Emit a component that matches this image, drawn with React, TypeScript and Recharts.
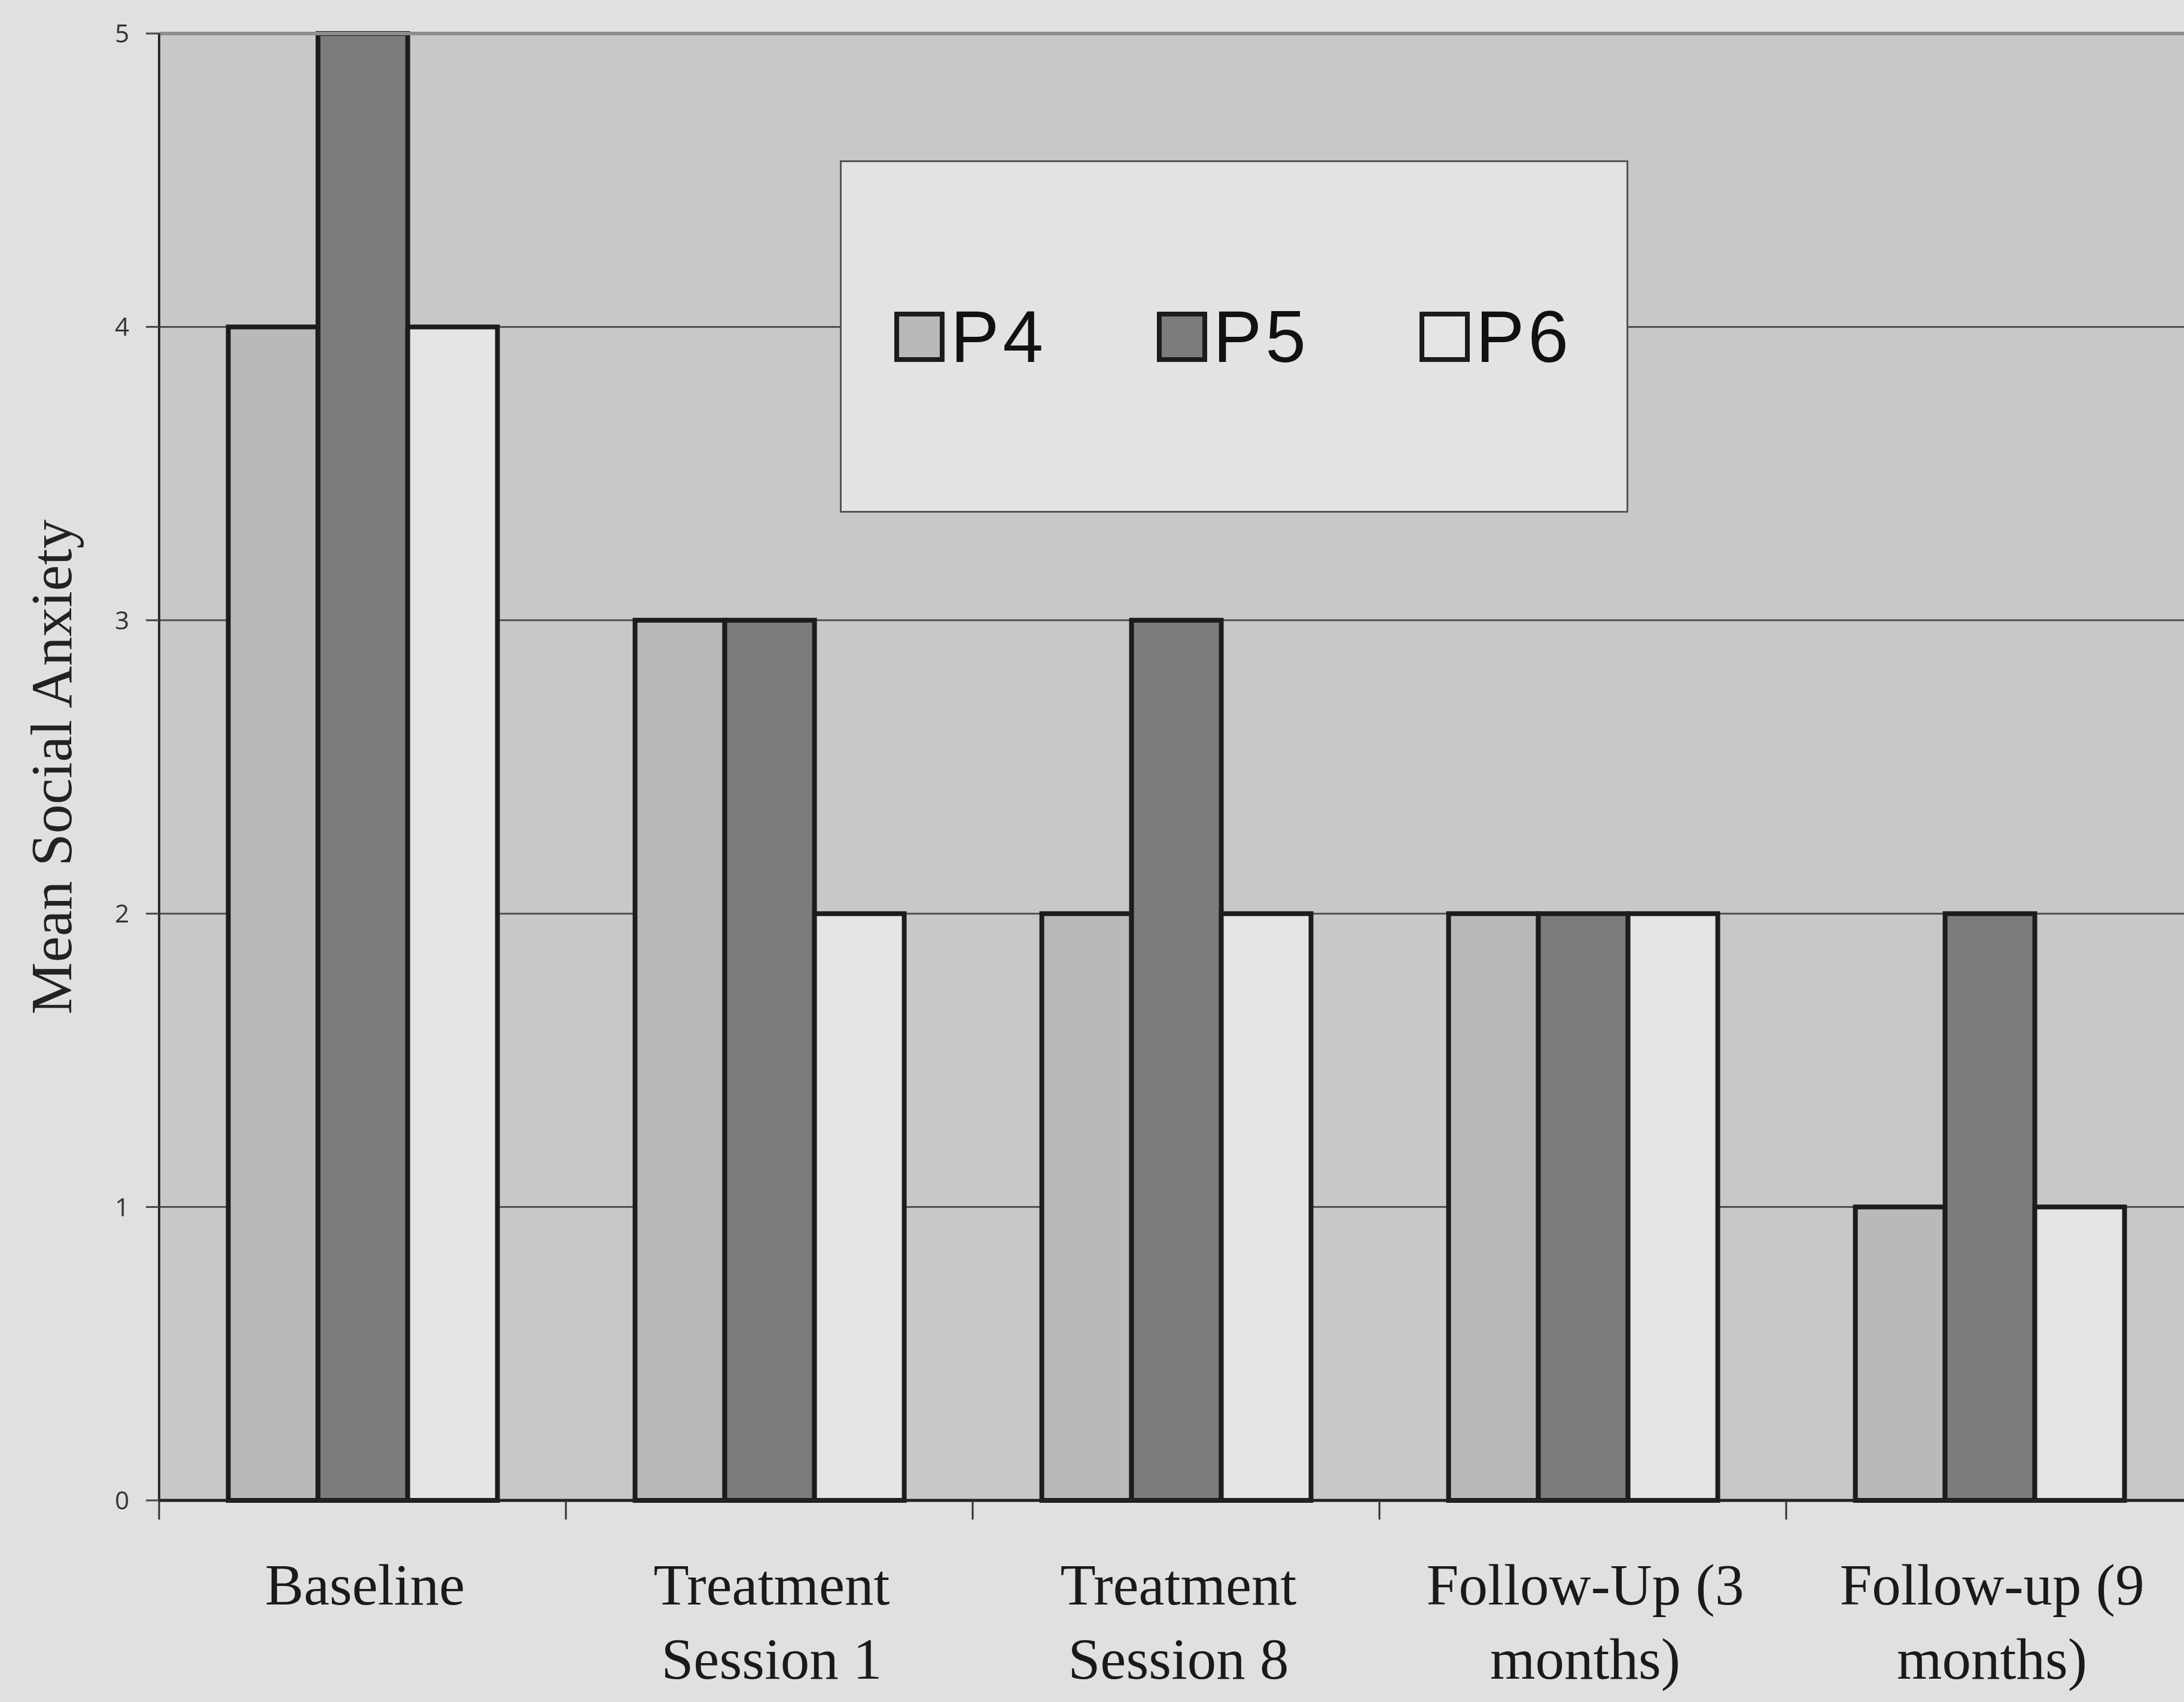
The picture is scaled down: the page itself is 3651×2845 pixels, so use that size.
import React from "react";
import { BarChart, Bar, XAxis, YAxis, CartesianGrid, Legend, Label, ReferenceLine } from "recharts";

const categories = [
  ["Baseline"],
  ["Treatment", "Session 1"],
  ["Treatment", "Session 8"],
  ["Follow-Up (3", "months)"],
  ["Follow-up (9", "months)"],
];
const p4 = [4, 3, 2, 2, 1];
const p5 = [5, 3, 3, 2, 2];
const p6 = [4, 2, 2, 2, 1];
const yTicks = [0, 1, 2, 3, 4, 5];
const seriesNames = ["P4", "P5", "P6"];
const seriesColors = ["#b9b9b9", "#7c7c7c", "#e5e5e5"];

const data = categories.map((c, i) => ({ name: c.join("\n"), P4: p4[i], P5: p5[i], P6: p6[i] }));

const SERIF = "'Liberation Serif', 'Times New Roman', serif";
const SANS = "'Liberation Sans', Arial, sans-serif";

function XTick(props: any) {
  const { x, y, payload } = props;
  const lines = String(payload.value).split("\n");
  const half = payload.offset ?? 340;
  return (
    <g>
      <line x1={x - half} y1={y} x2={x - half} y2={y + 32} stroke="#333" strokeWidth={3} />
      {lines.map((l: string, i: number) => (
        <text key={i} x={x + 4} y={y + 174 + i * 124} textAnchor="middle" fontFamily={SERIF} fontSize={97} fill="#1a1a1a">
          {l}
        </text>
      ))}
    </g>
  );
}

function YLabel(props: any) {
  const vb = props.viewBox ?? { x: 0, y: 56, width: 266, height: 2452 };
  const cx = vb.x + 86;
  const cy = vb.y + vb.height / 2;
  return (
    <text x={cx} y={cy} transform={`rotate(-90, ${cx}, ${cy})`} textAnchor="middle" dominantBaseline="central"
      fontFamily={SERIF} fontSize={98} fill="#222">
      Mean Social Anxiety
    </text>
  );
}

function LegendBox() {
  return (
    <div style={{ display: "flex", alignItems: "center", height: "100%", paddingLeft: 88, boxSizing: "border-box" }}>
      {seriesNames.map((n, i) => (
        <div key={n} style={{ display: "flex", alignItems: "center", width: 439, flexShrink: 0 }}>
          <div style={{ width: 84, height: 84, boxSizing: "border-box", border: "8px solid #1c1c1c", background: seriesColors[i] }} />
          <span style={{ marginLeft: 10, fontFamily: SANS, fontSize: 122, letterSpacing: 6, lineHeight: 1, color: "#111" }}>{n}</span>
        </div>
      ))}
    </div>
  );
}

export default function App() {
  return (
    <div style={{ position: "absolute", left: 0, top: 0, width: 3651, height: 2845, overflow: "hidden", background: "#e0e0e0", fontFamily: SERIF }}>
      <BarChart width={3680} height={2845} data={data} margin={{ top: 56, right: 14, left: 0, bottom: 0 }} barCategoryGap="17%" barGap={0}>
        <CartesianGrid vertical={false} stroke="#505050" strokeWidth={3} fill="#c8c8c8" />
        <ReferenceLine y={5} stroke="#8e8e8e" strokeWidth={6} />
        <XAxis dataKey="name" interval={0} height={337} tickLine={false} tickSize={0} tickMargin={0}
          axisLine={{ stroke: "#222", strokeWidth: 5 }} tick={<XTick />} />
        <YAxis domain={[0, 5]} ticks={yTicks} width={266} tickSize={22} tickMargin={28}
          axisLine={{ stroke: "#2a2a2a", strokeWidth: 4 }} tickLine={{ stroke: "#444", strokeWidth: 3 }}
          tick={{ fontFamily: "'Open Sans', sans-serif", fontSize: 42, fill: "#333" }}>
          <Label content={<YLabel />} />
        </YAxis>
        <Legend layout="horizontal" verticalAlign="middle" align="center" content={<LegendBox />}
          wrapperStyle={{ left: 1404, top: 268, width: 1318, height: 589, border: "3px solid #555", background: "#e3e3e3", boxSizing: "border-box" }} />
        {seriesNames.map((n, i) => (
          <Bar key={n} dataKey={n} fill={seriesColors[i]} stroke="#1c1c1c" strokeWidth={8} isAnimationActive={false} />
        ))}
      </BarChart>
    </div>
  );
}
